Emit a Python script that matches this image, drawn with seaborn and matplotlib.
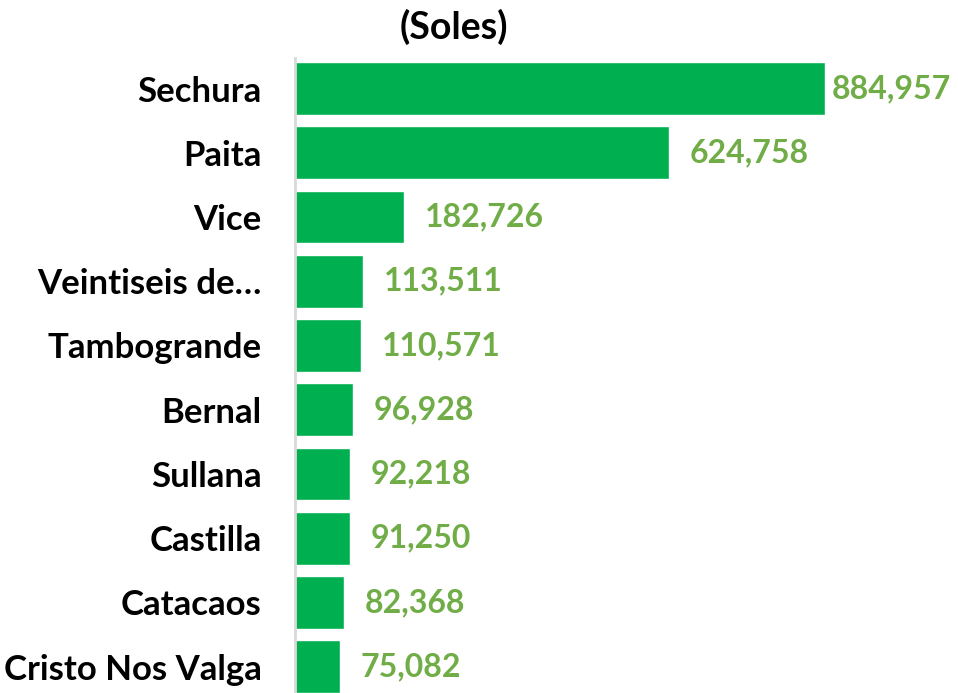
import numpy as np
import pandas as pd
import seaborn as sns
import matplotlib.pyplot as plt

# datos del grafico
distritos = ["Sechura", "Paita", "Vice", "Veintiseis de…", "Tambogrande",
             "Bernal", "Sullana", "Castilla", "Catacaos", "Cristo Nos Valga"]
montos = [884957, 624758, 182726, 113511, 110571, 96928, 92218, 91250, 82368, 75082]

sns.set_style("white")
plt.rcParams['font.family'] = ['Lato', 'DejaVu Sans']

df = pd.DataFrame({"distrito": distritos, "monto": montos})

fig = plt.figure(figsize=(9.58, 6.93), dpi=100)
ax = fig.add_axes([295 / 958, 0, 1 - 295 / 958, (693 - 58) / 693])

sns.barplot(data=df, x="monto", y="distrito", orient="h", color="#00B050",
            saturation=1, width=0.82, ax=ax)

# etiquetas de valores
labels = [f"{v:,}" for v in montos]
anns = ax.bar_label(ax.containers[0], labels=labels, padding=15, color="#70AD47",
                    fontsize=23, fontweight="bold")
# la primera etiqueta va mas pegada a la barra para que quepa
anns[0].xyann = (5, 0)

ax.set_xlim(0, 1107000)
ax.set_ylim(9.41, -0.475)
ax.set_xlabel("")
ax.set_ylabel("")
ax.set_xticks([])
ax.tick_params(axis="y", length=0, pad=24, labelsize=25, labelcolor="black")
for t in ax.get_yticklabels():
    t.set_fontweight("bold")
for s in ["top", "right", "bottom"]:
    ax.spines[s].set_visible(False)
ax.spines["left"].set_color("#D9D9D9")
ax.spines["left"].set_linewidth(2)

fig.text(454 / 958, 1 - 27 / 693, "(Soles)", ha="center", va="center",
         fontsize=27, fontweight="bold", color="black")

fig.savefig("out.png", dpi=100)
